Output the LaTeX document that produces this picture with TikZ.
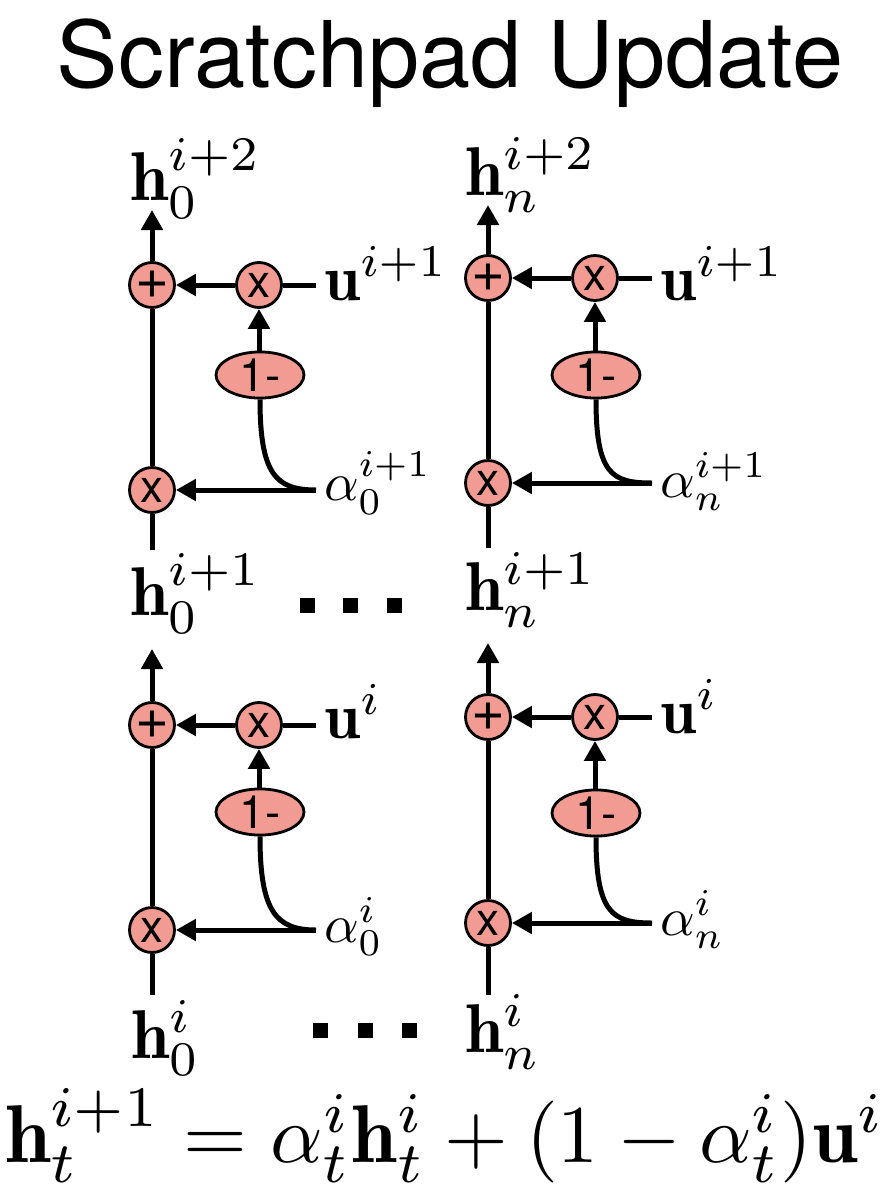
\documentclass[tikz,border=0pt]{standalone}
\usepackage{graphicx}
\usepackage{fontspec}
\setsansfont{TeX Gyre Heros}
\usetikzlibrary{arrows.meta,shapes.geometric,calc}
\definecolor{salm}{RGB}{241,155,146}
\newcommand\opfont{\sffamily\fontsize{46}{46}\selectfont}
\newcommand\plusfont{\sffamily\fontsize{58}{58}\selectfont}
\tikzset{
  op/.style={circle,draw,line width=2.8pt,fill=salm,minimum size=45pt,inner sep=0pt,font=\opfont},
  om/.style={ellipse,draw,line width=2.8pt,fill=salm,minimum width=88pt,minimum height=45pt,inner sep=0pt,font=\opfont},
  ln/.style={line width=5pt},
  arr/.style={line width=5pt,-{Triangle[width=21pt,length=20pt]}},
  lab/.style={anchor=base west,inner sep=0pt},
  sqdot/.style={rectangle,fill=black,minimum size=15pt,inner sep=0pt},
}
% #1 prefix, #2 column x, #3 y plus, #4 y ellipse, #5 y lower x, #6 u text, #7 alpha text, #8 u baseline, #9 alpha baseline
\newcommand\drawcell[9]{%
  \node[op,font=\plusfont] (#1p) at (#2,#3) {+};
  \node[op] (#1x) at (#2+107,#3) {x};
  \node[om] (#1e) at (#2+108,#4) {1-};
  \node[op] (#1b) at (#2,#5) {x};
  \node[lab] (#1u) at (#2+172,#8) {\scalebox{6.5}{$#6$}};
  \node[lab] (#1a) at (#2+172,#9) {\scalebox{5.4}{$#7$}};
  \coordinate (#1ue) at (#2+164,#3);
  \coordinate (#1ae) at (#2+164,#5);
  \draw[ln] (#1x) -- (#1ue);
  \draw[arr] (#1x) -- (#1p);
  \draw[arr] (#1x.south |- #1e.north) -- (#1x.south);
  \draw[arr] (#1ae) -- (#1b);
  \draw[ln] (#1e.south) .. controls ($(#1e.south)+(0,75)$) and ($(#1ae)+(-40,0)$) .. (#1ae);
  \draw[ln] (#1b) -- (#1p);
}
\begin{document}
\begin{tikzpicture}[x=1pt,y=-1pt]
\useasboundingbox (0,0) rectangle (892,1202);
\node[anchor=base,inner sep=0pt] (title) at (450,87) {\sffamily\fontsize{92}{100}\selectfont Scratchpad Update};

% top row
\drawcell{A}{152}{285}{375}{490}{\mathbf{u}^{i+1}}{\alpha_0^{i+1}}{300}{500}
\drawcell{B}{488}{278}{375}{483}{\mathbf{u}^{i+1}}{\alpha_n^{i+1}}{300}{497}
% bottom row
\drawcell{C}{152}{725}{812}{930}{\mathbf{u}^{i}}{\alpha_0^{i}}{738}{942}
\drawcell{D}{488}{717}{813}{923}{\mathbf{u}^{i}}{\alpha_n^{i}}{733}{935}

% h labels
\node[lab] (hA2) at (130,200) {\scalebox{6.9}{$\mathbf{h}_0^{i+2}$}};
\node[lab] (hB2) at (465,195) {\scalebox{6.9}{$\mathbf{h}_n^{i+2}$}};
\node[lab] (hA1) at (130,615) {\scalebox{6.9}{$\mathbf{h}_0^{i+1}$}};
\node[lab] (hB1) at (465,610) {\scalebox{6.9}{$\mathbf{h}_n^{i+1}$}};
\node[lab] (hA0) at (131,1058) {\scalebox{6.9}{$\mathbf{h}_0^{i}$}};
\node[lab] (hB0) at (465,1052) {\scalebox{6.9}{$\mathbf{h}_n^{i}$}};

% vertical ends
\coordinate (tA) at (152,210);
\coordinate (tB) at (488,205);
\coordinate (tC) at (152,649);
\coordinate (tD) at (488,643);
\coordinate (eA) at (152,550);
\coordinate (eB) at (488,548);
\coordinate (eC) at (152,995);
\coordinate (eD) at (488,995);
\draw[arr] (Ap) -- (tA);
\draw[arr] (Bp) -- (tB);
\draw[arr] (Cp) -- (tC);
\draw[arr] (Dp) -- (tD);
\draw[ln] (eA) -- (Ab);
\draw[ln] (eB) -- (Bb);
\draw[ln] (eC) -- (Cb);
\draw[ln] (eD) -- (Db);

% dots
\node[sqdot] (d1) at (307.5,605.5) {};
\node[sqdot] (d2) at (350.5,605.5) {};
\node[sqdot] (d3) at (394.5,605.5) {};
\node[sqdot] (d4) at (320.5,1030) {};
\node[sqdot] (d5) at (365,1030) {};
\node[sqdot] (d6) at (409,1030) {};

% formula
\node[anchor=base west,inner sep=0pt] (eq) at (5,1162) {\resizebox{880pt}{!}{$\mathbf{h}_t^{i+1}=\alpha_t^i\mathbf{h}_t^i+(1-\alpha_t^i)\mathbf{u}^i$}};
\end{tikzpicture}
\end{document}
